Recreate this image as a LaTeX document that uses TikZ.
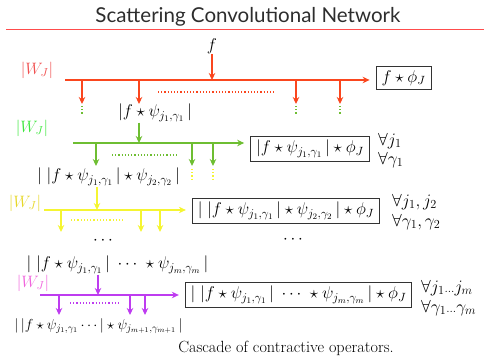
\RequirePackage{fix-cm}
\documentclass[tikz,border=0pt]{standalone}
\usepackage{fontspec}
\newfontfamily\titlefont{Lato}
\usetikzlibrary{arrows.meta}
\definecolor{rline}{RGB}{250,70,30}
\definecolor{rlab}{RGB}{240,80,80}
\definecolor{gline}{RGB}{110,190,50}
\definecolor{glab}{RGB}{60,230,60}
\definecolor{yline}{RGB}{245,245,50}
\definecolor{ylab}{RGB}{230,215,40}
\definecolor{pline}{RGB}{190,60,240}
\definecolor{plab}{RGB}{240,100,220}
\definecolor{ttl}{RGB}{45,45,45}
\tikzset{
  txt/.style={inner sep=0.5pt,font=\fontsize{17}{20}\selectfont},
  smalltxt/.style={inner sep=1pt,font=\fontsize{14.5}{17}\selectfont},
  outbox/.style={draw=black!80,line width=0.8pt,inner xsep=5.5pt,inner ysep=4pt,font=\fontsize{17}{20}\selectfont},
  forall/.style={anchor=west,inner sep=0pt,font=\fontsize{17.5}{20}\selectfont},
  wlab/.style={inner sep=0pt,font=\fontsize{16.5}{19}\selectfont},
  flow/.style={line width=1.4pt,-{Stealth[length=7pt,width=6.5pt]}},
  dotsline/.style={line width=1.2pt,dotted},
}
\begin{document}
\begin{tikzpicture}[x=1pt,y=-1pt]
\useasboundingbox (0,0) rectangle (488,358);
% title
\node[inner sep=0pt,text=ttl] (title) at (248,17) {\resizebox{305pt}{!}{\titlefont\fontsize{20}{24}\selectfont Scattering Convolutional Network}};
\coordinate (tl) at (6,29.5);
\coordinate (tr) at (484,29.5);
\draw[red!70,line width=1pt] (tl) -- (tr);

% ---- level 0 (red)
\node[txt] (f) at (212,46) {$f$};
\node[wlab,text=rlab] (w0) at (37,70) {$|W_J|$};
\coordinate (r0) at (65,80);
\coordinate (rin) at (212,80);
\node[outbox] (b0) at (403.5,78) {$f\star\phi_J$};
\draw[flow,rline] (f) -- (rin);
\draw[flow,rline,shorten >=6pt] (r0) -- (b0.west |- r0);
\foreach \x/\n in {82/ra,139/rb,296/rc,340/rd}{
  \coordinate (\n s) at (\x,80);
  \coordinate (\n e) at (\x,104);
  \draw[flow,rline] (\n s) -- (\n e);
}
\coordinate (rd1) at (158,92); \coordinate (rd2) at (276,92);
\draw[dotsline,rline] (rd1) -- (rd2);
\foreach \x/\n in {82/ga,296/gb,340/gc}{
  \coordinate (\n1) at (\x,106); \coordinate (\n2) at (\x,114);
  \draw[dotsline,gline] (\n1) -- (\n2);
}

% ---- level 1 (green)
\node[txt] (t1) at (155,113) {$|f\star\psi_{j_1,\gamma_1}\,|$};
\node[wlab,text=glab] (w1) at (32,128) {$|W_J|$};
\coordinate (g0) at (73,143);
\coordinate (gin) at (139,143);
\node[outbox] (b1) at (310,149) {$|f\star\psi_{j_1,\gamma_1}\,|\star\phi_J$};
\node[forall] (fa1) at (378,141) {$\forall j_1$};
\node[forall] (fb1) at (378,160) {$\forall \gamma_1$};
\draw[flow,gline] (t1.south -| gin) -- (gin);
\draw[flow,gline,shorten >=6pt] (g0) -- (b1.west |- g0);
\foreach \x/\n in {96/ga,192/gb,213/gc}{
  \coordinate (\n s) at (\x,143);
  \coordinate (\n e) at (\x,166);
  \draw[flow,gline] (\n s) -- (\n e);
}
\coordinate (gd1) at (112,155); \coordinate (gd2) at (177,155);
\draw[dotsline,gline] (gd1) -- (gd2);
\foreach \x/\n in {192/ya,213/yb}{
  \coordinate (\n1) at (\x,169); \coordinate (\n2) at (\x,181);
  \draw[dotsline,yline] (\n1) -- (\n2);
}

% ---- level 2 (yellow)
\node[txt] (t2) at (108.5,177) {$|\;|f\star\psi_{j_1,\gamma_1}\,|\star\psi_{j_2,\gamma_2}\,|$};
\node[wlab,text=ylab] (w2) at (25,203) {$|W_J|$};
\coordinate (y0) at (44,210);
\coordinate (yin) at (97,210);
\node[outbox] (b2) at (286,211) {$|\;|f\star\psi_{j_1,\gamma_1}\,|\star\psi_{j_2,\gamma_2}\,|\star\phi_J$};
\node[forall] (fa2) at (392,202) {$\forall j_1,j_2$};
\node[forall] (fb2) at (392,222) {$\forall \gamma_1,\gamma_2$};
\draw[flow,yline] (t2.south -| yin) -- (yin);
\draw[flow,yline,shorten >=6pt] (y0) -- (b2.west |- y0);
\foreach \x/\n in {61/ya,141/yb,160/yc}{
  \coordinate (\n s) at (\x,210);
  \coordinate (\n e) at (\x,232);
  \draw[flow,yline] (\n s) -- (\n e);
}
\coordinate (yd1) at (71,220); \coordinate (yd2) at (125,220);
\draw[dotsline,yline] (yd1) -- (yd2);

\node[txt] (dl) at (103,241) {$\cdots$};
\node[txt] (dr) at (293,240) {$\cdots$};

% ---- level m (purple)
\node[txt] (t3) at (117.5,265) {$|\;|f\star\psi_{j_1,\gamma_1}\,|\;\cdots\;\star\psi_{j_m,\gamma_m}\,|$};
\node[wlab,text=plab] (w3) at (33,283) {$|W_J|$};
\coordinate (p0) at (40,295);
\coordinate (pin) at (98,295);
\node[outbox] (b3) at (298.5,295) {$|\;|f\star\psi_{j_1,\gamma_1}\,|\;\cdots\;\star\psi_{j_m,\gamma_m}\,|\star\phi_J$};
\node[forall] (fa3) at (421,288) {$\forall j_1{\scriptstyle\ldots} j_m$};
\node[forall] (fb3) at (421,308) {$\forall \gamma_1{\scriptstyle\ldots}\gamma_m$};
\draw[flow,pline] (t3.south -| pin) -- (pin);
\draw[flow,pline,shorten >=6pt] (p0) -- (b3.west |- p0);
\foreach \x/\n in {59/pa,130/pb,145/pc}{
  \coordinate (\n s) at (\x,295);
  \coordinate (\n e) at (\x,315);
  \draw[flow,pline] (\n s) -- (\n e);
}
\coordinate (pd1) at (70,303); \coordinate (pd2) at (119,303);
\draw[dotsline,pline] (pd1) -- (pd2);
\node[smalltxt] (t4) at (98.5,326) {$|\,|f\star\psi_{j_1,\gamma_1}\cdots|\star\psi_{j_{m+1},\gamma_{m+1}}\,|$};

\node[inner sep=0pt,font=\fontsize{16.2}{19}\selectfont] (cap) at (286,348) {Cascade of contractive operators.};
\end{tikzpicture}
\end{document}
